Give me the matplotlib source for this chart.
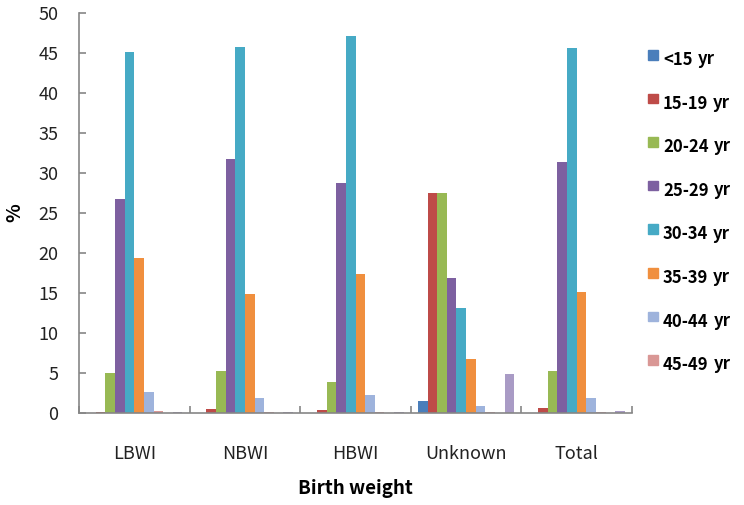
import matplotlib
matplotlib.use('Agg')
import matplotlib.pyplot as plt
import numpy as np
from matplotlib.patches import Rectangle

plt.rcParams['font.family'] = ['Noto Sans CJK KR', 'DejaVu Sans']

grupos = ['LBWI', 'NBWI', 'HBWI', 'Unknown', 'Total']
faixas = ['<15', '15-19', '20-24', '25-29', '30-34', '35-39', '40-44', '45-49']

# valores (%) por faixa etaria, um valor por grupo de peso ao nascer
v_menor15 = [0.0, 0.0, 0.0, 1.5, 0.0]
v_15_19 = [0.1, 0.5, 0.3, 27.4, 0.6]
v_20_24 = [5.0, 5.2, 3.8, 27.4, 5.2]
v_25_29 = [26.7, 31.7, 28.7, 16.9, 31.3]
v_30_34 = [45.1, 45.7, 47.1, 13.1, 45.6]
v_35_39 = [19.3, 14.8, 17.4, 6.7, 15.1]
v_40_44 = [2.6, 1.8, 2.2, 0.8, 1.9]
v_45_49 = [0.2, 0.1, 0.1, 0.1, 0.05]
# duas series extra sem legenda no grafico original
v_extra1 = [0.0, 0.0, 0.0, 0.0, 0.0]
v_extra2 = [0.1, 0.05, 0.1, 4.9, 0.2]

series = [v_menor15, v_15_19, v_20_24, v_25_29, v_30_34,
          v_35_39, v_40_44, v_45_49, v_extra1, v_extra2]
cores = ['#4A7EBB', '#BE4B48', '#98B954', '#7D60A0', '#46AAC5',
         '#F08F3E', '#9EB3DC', '#D99795', '#C3D69B', '#A99BC5']

W, H = 744, 505
fig = plt.figure(figsize=(W / 100, H / 100), dpi=100)
ax = fig.add_axes([79 / W, 1 - 412.7 / H, (632 - 79) / W, 400 / H])

x = np.arange(len(grupos))
n = len(series)
largura = 0.087
for i, (vals, cor) in enumerate(zip(series, cores)):
    pos = x - n * largura / 2 + (i + 0.5) * largura
    ax.bar(pos, vals, width=largura, color=cor, linewidth=0)

ax.set_xlim(-0.5, len(grupos) - 0.5)
ax.set_ylim(0, 50)
ax.set_yticks(np.arange(0, 51, 5))
ax.set_xticks(x)
ax.set_xticklabels(grupos)
ax.set_xticks(np.arange(-0.5, len(grupos), 1), minor=True)

cinza = '#868686'
for lado in ['top', 'right']:
    ax.spines[lado].set_visible(False)
for lado in ['left', 'bottom']:
    ax.spines[lado].set_color(cinza)
    ax.spines[lado].set_linewidth(1.2)

ax.tick_params(axis='y', direction='in', length=5, color=cinza, width=1.2,
               labelsize=13, pad=15, labelcolor='#222222')
ax.tick_params(axis='x', which='major', length=0, labelsize=13, pad=23,
               labelcolor='#222222')
ax.tick_params(axis='x', which='minor', direction='in', length=5,
               color=cinza, width=1.2)

ax.set_ylabel('%', fontsize=14, fontweight='bold', labelpad=10)
ax.set_xlabel('Birth weight', fontsize=13.5, fontweight='bold', labelpad=12)

# legenda manual (apenas as 8 faixas nomeadas)
passo = 43.6
for i, (rotulo, cor) in enumerate(zip(faixas, cores)):
    topo = 50 + passo * i
    fig.patches.append(Rectangle((648 / W, 1 - (topo + 9.5) / H), 10 / W, 9.5 / H,
                                 transform=fig.transFigure, color=cor))
    t = fig.text(663 / W, 1 - (topo + 15) / H, rotulo, fontsize=12,
                 fontweight='bold', va='baseline', ha='left')
    ax.annotate('yr', xy=(1, 0), xycoords=t, xytext=(3.5, 3.5),
                textcoords='offset points', fontsize=12, fontweight='bold',
                va='baseline', ha='left', annotation_clip=False)

fig.savefig('out.png', dpi=100)
